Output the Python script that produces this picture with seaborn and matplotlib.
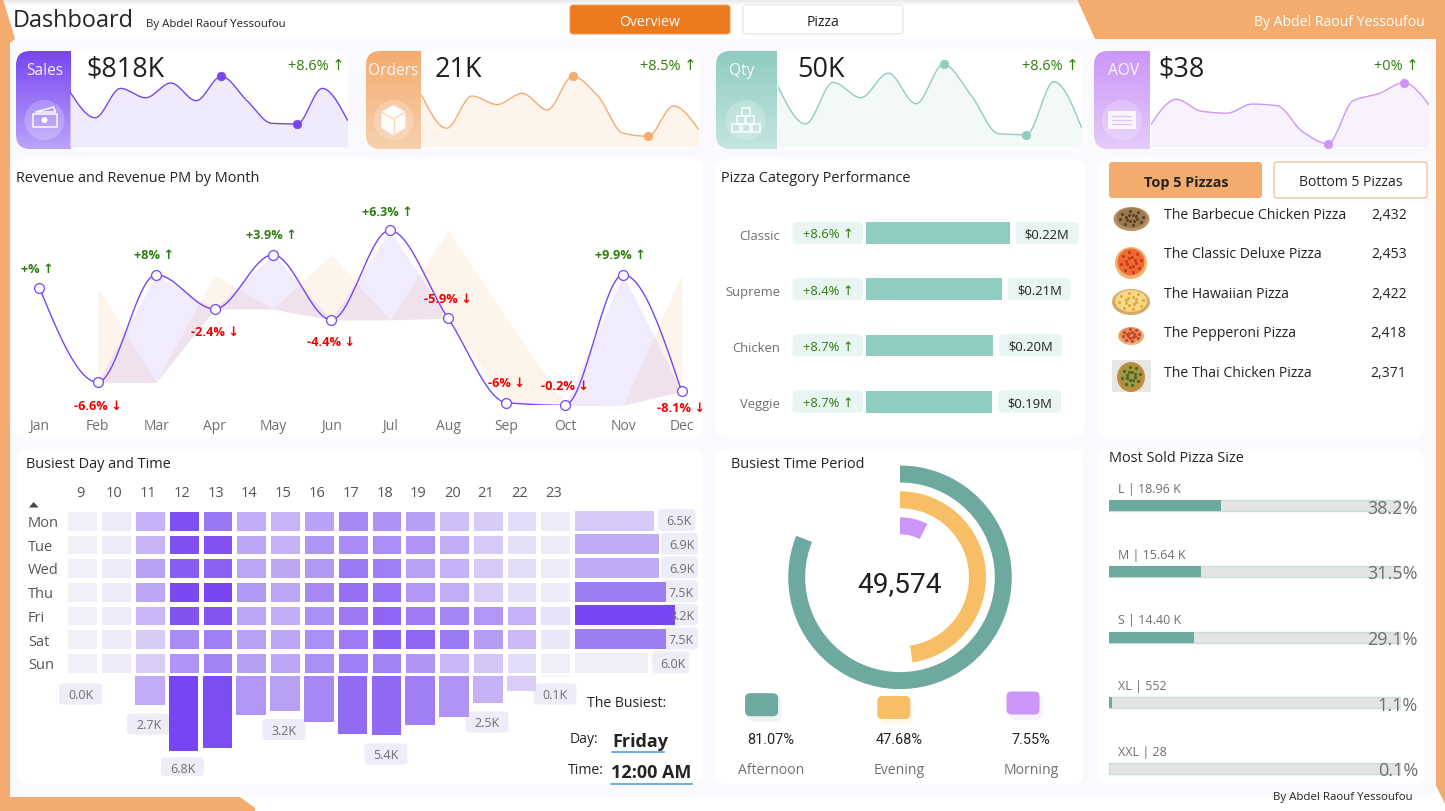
import numpy as np
import pandas as pd
import matplotlib
matplotlib.use('Agg')
import matplotlib.pyplot as plt
import seaborn as sns
from matplotlib.colors import LinearSegmentedColormap
from matplotlib.patches import FancyBboxPatch, Polygon, Ellipse, Circle, Rectangle

W, H = 1445, 812

months = ['Jan', 'Feb', 'Mar', 'Apr', 'May', 'Jun', 'Jul', 'Aug', 'Sep', 'Oct', 'Nov', 'Dec']
revenue = [69.78, 65.13, 70.42, 68.73, 71.40, 68.20, 72.60, 68.28, 64.13, 64.00, 70.42, 64.69]
orders = [1845, 1685, 1840, 1799, 1853, 1773, 1935, 1841, 1661, 1646, 1792, 1680]
quantity = [4232, 3961, 4261, 4151, 4328, 4107, 4392, 4168, 3890, 3883, 4266, 3935]
aov = [37.80, 38.70, 38.27, 38.20, 38.53, 38.47, 37.53, 37.10, 38.65, 38.90, 39.30, 38.50]
revenue_labels = ['+%', '-6.6%', '+8%', '-2.4%', '+3.9%', '-4.4%', '+6.3%', '-5.9%', '-6%', '-0.2%', '+9.9%', '-8.1%']

categories = ['Classic', 'Supreme', 'Chicken', 'Veggie']
category_sales = [220, 208, 195, 193]
category_sales_labels = ['$0.22M', '$0.21M', '$0.20M', '$0.19M']
category_growth = ['+8.6%', '+8.4%', '+8.7%', '+8.7%']

top_pizzas = ['The Barbecue Chicken Pizza', 'The Classic Deluxe Pizza', 'The Hawaiian Pizza',
              'The Pepperoni Pizza', 'The Thai Chicken Pizza']
top_pizza_qty = ['2,432', '2,453', '2,422', '2,418', '2,371']

days = ['Mon', 'Tue', 'Wed', 'Thu', 'Fri', 'Sat', 'Sun']
hours = [9, 10, 11, 12, 13, 14, 15, 16, 17, 18, 19, 20, 21, 22, 23]
hour_day_qty = [
    [10, 30, 400, 1020, 770, 420, 380, 500, 650, 600, 520, 320, 240, 120, 30],
    [10, 30, 380, 1010, 1000, 470, 400, 580, 640, 620, 590, 430, 250, 110, 30],
    [10, 30, 500, 940, 900, 480, 460, 560, 760, 720, 510, 400, 250, 120, 30],
    [10, 30, 470, 1060, 1070, 560, 480, 660, 820, 800, 570, 430, 220, 110, 30],
    [10, 30, 370, 990, 980, 470, 420, 620, 750, 890, 740, 680, 570, 400, 90],
    [10, 30, 230, 640, 720, 500, 470, 620, 740, 900, 880, 760, 540, 350, 60],
    [10, 30, 220, 590, 700, 520, 470, 620, 720, 690, 580, 370, 270, 120, 20],
]
day_totals = [6.5, 6.9, 6.9, 7.5, 8.2, 7.5, 6.0]
hour_totals = [0.02, 0.05, 2.7, 6.8, 6.5, 3.6, 3.2, 4.2, 5.3, 5.4, 4.5, 3.7, 2.5, 1.4, 0.1]

periods = ['Afternoon', 'Evening', 'Morning']
period_share = [81.07, 47.68, 7.55]

sizes = ['L | 18.96 K', 'M | 15.64 K', 'S | 14.40 K', 'XL | 552', 'XXL | 28']
size_share = [38.2, 31.5, 29.1, 1.1, 0.1]

PURPLE = '#7746F2'
ORANGE = '#F4AC6E'
TEAL = '#8FCCC1'
LILAC = '#CC96F8'
DARK_TEAL = '#6EA9A0'
GREEN = '#2F7D0E'
RED = '#F00000'
GREY = '#6F6F6F'
INK = '#252423'

sns.set_theme(style='white')
plt.rcParams['font.family'] = ['Open Sans', 'DejaVu Sans']

fig = plt.figure(figsize=(W / 100, H / 100), dpi=100, facecolor='white')


def add_axes(x0, y0, x1, y1, zorder=2):
    # axes placed with pixel coordinates of the picture
    ax = fig.add_axes([x0 / W, 1 - y1 / H, (x1 - x0) / W, (y1 - y0) / H], zorder=zorder)
    ax.patch.set_alpha(0)
    return ax


def clean(ax):
    ax.set_xlabel('')
    ax.set_ylabel('')
    ax.set_xticks([])
    ax.set_yticks([])
    sns.despine(ax=ax, left=True, bottom=True)


bg = add_axes(0, 0, W, H, zorder=0)
top = add_axes(0, 0, W, H, zorder=5)
for a in (bg, top):
    a.set_xlim(0, W)
    a.set_ylim(H, 0)
    a.axis('off')


def rrect(x0, y0, x1, y1, r=4, color='white', ec='none', lw=0.7, z=2, ax=bg, alpha=None):
    patch = FancyBboxPatch((x0 + r, y0 + r), x1 - x0 - 2 * r, y1 - y0 - 2 * r,
                           boxstyle=f'round,pad={r},rounding_size={r}', fc=color, ec=ec, lw=lw,
                           zorder=z, alpha=alpha)
    ax.add_patch(patch)
    return patch


def txt(x, y, s, px=14, color=INK, ha='left', weight='normal', family=None, alpha=None):
    # the font sits about 2px high when centred on the box
    kw = {'family': family} if family else {}
    top.text(x, y + 2, s, fontsize=px * 0.72, color=color, ha=ha, va='center', weight=weight, alpha=alpha, **kw)


def gradient_tab(x0, x1, c0, c1):
    # vertical gradient with only the left corners rounded
    cmap = LinearSegmentedColormap.from_list('tab', [c0, c1])
    clip = rrect(x0, 52, x1 + 20, 150, r=14, color='none', z=1)
    im = bg.imshow(np.linspace(0, 1, 100).reshape(-1, 1), extent=(x0, x1, 150, 52), cmap=cmap,
                   aspect='auto', zorder=3)
    im.set_clip_path(clip)
    bg.set_xlim(0, W)
    bg.set_ylim(H, 0)


def monotone_curve(values, steps=24):
    # smooth the line between the months, no overshoot
    y = np.asarray(values, dtype=float)
    d = np.diff(y)
    m = np.zeros(len(y))
    for i in range(1, len(y) - 1):
        if d[i - 1] * d[i] > 0:
            m[i] = 2 * d[i - 1] * d[i] / (d[i - 1] + d[i])
    m[0] = (3 * d[0] - m[1]) / 2
    m[-1] = (3 * d[-1] - m[-2]) / 2
    xs, ys = [], []
    for i in range(len(d)):
        t = np.linspace(0, 1, steps, endpoint=False)
        ys.append((2 * t**3 - 3 * t**2 + 1) * y[i] + (t**3 - 2 * t**2 + t) * m[i]
                  + (-2 * t**3 + 3 * t**2) * y[i + 1] + (t**3 - t**2) * m[i + 1])
        xs.append(i + t)
    xs.append(np.array([len(y) - 1.0]))
    ys.append(np.array([y[-1]]))
    return np.concatenate(xs), np.concatenate(ys)


def draw_background():
    # fade at the very top of the page
    fade = LinearSegmentedColormap.from_list('fade', ['#E6E6E6', '#FFFFFF'])
    bg.imshow(np.linspace(0, 1, 8).reshape(-1, 1), extent=(0, W, 7, 0), cmap=fade, aspect='auto', zorder=0.5)
    bg.set_xlim(0, W)
    bg.set_ylim(H, 0)
    shapes = [
        [(1077, 0), (W, 0), (W, 805), (1436, 787), (1436, 40), (1095, 40)],
        [(0, 0), (3, 0), (15, 40), (10, 44), (10, 798), (240, 798), (255, 809), (255, H), (0, H)],
    ]
    for pts in shapes:
        bg.add_patch(Polygon(pts, fc=ORANGE, ec='none', zorder=1))
    rrect(10, 40, 1436, 798, r=10, color='#FAF9FE', z=1.2)
    cards = [(15, 52, 348, 150), (366, 52, 700, 150), (716, 52, 1082, 150), (1094, 52, 1430, 150),
             (13, 160, 703, 438), (715, 160, 1085, 438), (1098, 160, 1424, 438),
             (18, 450, 703, 785), (715, 450, 1083, 785), (1098, 450, 1424, 785)]
    for c in cards:
        rrect(*c, r=10, color='white', z=1.5)


def draw_header():
    txt(13, 19, 'Dashboard', px=23.5)
    txt(146, 22, 'By Abdel Raouf Yessoufou', px=11.5)
    rrect(570, 6, 730, 35, r=3, color='#EC7A1E', ec='#F0A060')
    txt(650, 20.5, 'Overview', px=14, color='white', ha='center')
    rrect(743, 6, 903, 35, r=3, color='white', ec='#E2E2E2')
    txt(823, 20.5, 'Pizza', px=14, ha='center')
    txt(1425, 20, 'By Abdel Raouf Yessoufou', px=14, color='white', ha='right')
    txt(1413, 796, 'By Abdel Raouf Yessoufou', px=11.5, ha='right')


def draw_spark(x0, x1, top_px, bot_px, values, color, fill, low, high):
    base_px = 148
    ax = add_axes(x0, top_px, x1, base_px)
    vmin, vmax = min(values), max(values)
    floor = vmin - (vmax - vmin) * (base_px - bot_px) / (bot_px - top_px)
    xs, ys = monotone_curve(values)
    ax.fill_between(xs, ys, floor, color=fill, lw=0)
    sns.lineplot(x=xs, y=ys, ax=ax, color=color, linewidth=1.0, estimator=None, sort=False)
    sns.scatterplot(x=[low, high], y=[values[low], values[high]], ax=ax, color=color, s=38,
                    edgecolor=color, clip_on=False, zorder=4)
    ax.set_xlim(0, 11)
    ax.set_ylim(floor, vmax)
    clean(ax)


def draw_icon(kind, cx, cy):
    top.add_patch(Circle((cx, cy), 20, fc='white', ec='none', alpha=0.22))
    kw = dict(fc='none', ec='white', lw=1.1, alpha=0.95)
    if kind == 'sales':
        top.add_patch(Rectangle((cx - 12, cy - 6), 24, 13, **kw))
        top.add_patch(Circle((cx, cy), 3, fc='white', ec='none'))
        top.add_patch(Polygon([(cx - 9, cy - 8), (cx + 9, cy - 13), (cx + 11, cy - 8)], **kw))
    elif kind == 'orders':
        top.add_patch(Polygon([(cx - 12, cy - 8), (cx, cy - 15), (cx + 12, cy - 8), (cx + 12, cy + 8),
                               (cx, cy + 15), (cx - 12, cy + 8)], fc='white', ec='none', alpha=0.95))
        top.plot([cx - 12, cx, cx + 12], [cy - 8, cy - 1, cy - 8], color='#F9D9BC', lw=1)
        top.plot([cx, cx], [cy - 1, cy + 15], color='#F9D9BC', lw=1)
    elif kind == 'qty':
        for dx, dy in [(-4, -12), (-9, -4), (0, -4), (-14, 4), (-4, 4), (6, 4)]:
            top.add_patch(Rectangle((cx + dx, cy + dy), 8, 8, **kw))
    else:
        top.add_patch(Rectangle((cx - 14, cy - 9), 28, 18, fc='white', ec='none', alpha=0.85))
        for dy in (-4, 0, 4):
            top.plot([cx - 10, cx + 9], [cy + dy, cy + dy], color='#E2C6FA', lw=1)


def draw_kpis():
    cards = [
        ('Sales', '$818K', '+8.6%', 16, 71, '#7746F2', '#BBA3F9', 45, 86, 344, 'sales', 44.5),
        ('Orders', '21K', '+8.5%', 366, 421, '#F4AC6E', '#F7D0AE', 393, 435, 696, 'orders', 393.5),
        ('Qty', '50K', '+8.6%', 716, 777, '#8FCCC1', '#C3E5DF', 742, 797, 1079, 'qty', 745.5),
        ('AOV', '$38', '+0%', 1094, 1150, '#CC96F8', '#E4CBFB', 1124, 1158, 1419, 'aov', 1122),
    ]
    for name, value, delta, x0, x1, c0, c1, name_x, value_x, delta_x, icon, icon_x in cards:
        gradient_tab(x0, x1, c0, c1)
        txt(name_x, 69, name, px=15.5, color='white', ha='center', alpha=0.9)
        txt(value_x, 68, value, px=27, color='#1F1F1F')
        txt(delta_x, 64, f'{delta} ↑', px=14.5, color=GREEN, ha='right')
        draw_icon(icon, icon_x, 121)
    draw_spark(70, 347.5, 77.3, 125, revenue, PURPLE, '#EFEBFC', 9, 6)
    draw_spark(421.5, 698.5, 77.3, 137.3, orders, ORANGE, '#FDF4EC', 9, 6)
    draw_spark(778, 1081.5, 65.3, 135.7, quantity, TEAL, '#F2F9F7', 9, 6)
    draw_spark(1151, 1429, 83.7, 144.7, aov, LILAC, '#F8F2FE', 7, 10)


def draw_revenue():
    txt(16, 176, 'Revenue and Revenue PM by Month', px=14.5)
    ax = add_axes(39.4, 231.3, 681.6, 406.3)
    idx = np.arange(len(months))
    rev = np.array(revenue)
    prev = np.r_[np.nan, rev[:-1]]
    base = np.fmin(rev, prev)
    ax.fill_between(idx[1:], prev[1:], base[1:], color=ORANGE, alpha=0.13, lw=0)
    ax.fill_between(idx[1:], rev[1:], base[1:], color=PURPLE, alpha=0.10, lw=0)
    xs, ys = monotone_curve(revenue)
    sns.lineplot(x=xs, y=ys, ax=ax, color=PURPLE, linewidth=1.0, estimator=None, sort=False)
    sns.scatterplot(x=idx, y=rev, ax=ax, s=50, color='white', edgecolor=PURPLE, linewidth=0.9,
                    clip_on=False, zorder=4)
    ax.set_xlim(0, 11)
    ax.set_ylim(64.0, 72.6)
    sns.despine(ax=ax, left=True, bottom=True)
    ax.set_yticks([])
    ax.set_xticks(idx, months)
    ax.tick_params(axis='x', length=0, pad=9.5, labelsize=10, labelcolor=GREY)
    label_dx = [-2, 0, -2, 0, -2, 0, -2, 0, 0, 0, -3, -1]
    label_dy = [-19, 23, -20, 22, -20, 22, -19, -20, -20, -20, -20, 16]
    for i, s in enumerate(revenue_labels):
        up = s.startswith('+')
        ax.annotate(f'{s} ' + ('↑' if up else '↓'), (i, rev[i]),
                    xytext=(label_dx[i] * 0.72, -label_dy[i] * 0.72), textcoords='offset points',
                    ha='center', va='center', fontsize=9.2, weight='bold',
                    color=GREEN if up else RED, annotation_clip=False, zorder=6)


def draw_categories():
    txt(721, 176, 'Pizza Category Performance', px=14.5)
    ax = add_axes(865.6, 206, 1009.6, 430.8)
    df = pd.DataFrame({'category': categories, 'sales': category_sales})
    sns.barplot(data=df, x='sales', y='category', ax=ax, color=TEAL, width=0.39, saturation=1, linewidth=0)
    ax.set_xlim(0, max(category_sales))
    clean(ax)
    scale = 144 / max(category_sales)
    for i, name in enumerate(categories):
        y = 234 + i * 56.2
        rrect(792.5, y - 11, 863, y + 11, r=4, color='#E8F5F2')
        txt(828, y - 1, f'{category_growth[i]} ↑', px=13, color=GREEN, ha='center')
        txt(780, y, name, px=13, color=GREY, ha='right')
        end = 865.6 + category_sales[i] * scale
        rrect(end + 6, y - 11, end + 69, y + 11, r=4, color='#E8F5F2')
        txt(end + 37.5, y - 1, category_sales_labels[i], px=13, ha='center')


def draw_pizza(cx, cy, rx, ry, crust, sauce, dots):
    top.add_patch(Ellipse((cx, cy + 1), 2 * rx, 2 * ry, fc=crust, ec='none'))
    top.add_patch(Ellipse((cx, cy), 2 * rx * 0.84, 2 * ry * 0.84, fc=sauce, ec='none'))
    angles = np.linspace(0, 2 * np.pi, 9)[:-1]
    for r in (0.3, 0.62):
        top.scatter(cx + r * rx * np.cos(angles + r), cy + r * ry * np.sin(angles + r), s=5, color=dots,
                    linewidths=0, zorder=3)


def draw_top_pizzas():
    rrect(1109, 163, 1262, 199, r=3, color=ORANGE)
    txt(1186, 181, 'Top 5 Pizzas', px=14.5, weight='bold', ha='center')
    rrect(1274, 163, 1427, 199, r=3, color='white', ec=ORANGE)
    txt(1350.5, 181, 'Bottom 5 Pizzas', px=14, ha='center')
    bg.add_patch(Rectangle((1112, 361), 39, 32, fc='#E6E6E4', ec='none', zorder=2))
    draw_pizza(1131.5, 219, 18, 12, '#B8935F', '#9C7A50', '#5F3E2A')
    draw_pizza(1131, 263, 16, 16, '#F0B56A', '#EE6A34', '#C9371A')
    draw_pizza(1131, 302, 19, 13, '#D9A860', '#F3D98A', '#E2A83A')
    draw_pizza(1131, 336, 13, 9, '#E8B27A', '#E98B5A', '#C7452C')
    draw_pizza(1131, 377, 14, 15, '#C98B3E', '#A8933F', '#3F6A2E')
    for i, name in enumerate(top_pizzas):
        y = 213.5 + i * 39.5
        txt(1163.5, y, name, px=14)
        txt(1406.5, y, top_pizza_qty[i], px=14, ha='right')


def draw_heatmap():
    txt(26, 463, 'Busiest Day and Time', px=14.5)
    cmap = LinearSegmentedColormap.from_list('busy', ['#F2F0F8', PURPLE])
    ax = add_axes(65.3, 509.8, 572.3, 675.7)
    df = pd.DataFrame(hour_day_qty, index=days, columns=hours)
    sns.heatmap(df, ax=ax, cmap=cmap, vmin=0, vmax=1080, cbar=False, linewidths=2.2, linecolor='white')
    ax.xaxis.tick_top()
    ax.set_xticks(np.arange(len(hours)) + 0.45, hours)
    ax.set_yticks(np.arange(len(days)) + 0.58, days)
    ax.tick_params(axis='x', length=0, pad=6.5, labelsize=10.5, labelcolor='#555555', rotation=0)
    ax.tick_params(axis='y', length=0, pad=27, labelsize=10.5, labelcolor='#555555', rotation=0)
    for label in ax.get_yticklabels():
        label.set_ha('left')
    ax.set_xlabel('')
    ax.set_ylabel('')
    top.add_patch(Polygon([(29, 508.5), (38.5, 508.5), (33.7, 503)], fc='#444444', ec='none'))

    # hour totals hanging under the grid
    ax2 = add_axes(65.3, 676.5, 572.3, 752)
    peak = max(hour_totals)
    colors = [cmap(v / peak) for v in hour_totals]
    sns.barplot(x=[str(h) for h in hours], y=hour_totals, hue=[str(h) for h in hours], palette=colors,
                legend=False, ax=ax2, width=0.88, saturation=1, linewidth=0)
    ax2.set_ylim(peak, 0)
    clean(ax2)
    pills = {0: (80.6, 695, '0.0K'), 2: (148.6, 725, '2.7K'), 3: (182.5, 769, '6.8K'), 6: (284, 730.5, '3.2K'),
             9: (386, 755, '5.4K'), 12: (487, 723, '2.5K'), 14: (555, 695, '0.1K')}
    for x, y, s in pills.values():
        rrect(x - 21.5, y - 10.5, x + 21.5, min(y + 10.5, 777), r=4, color='#EFECF9')
        txt(x, y - 1, s, px=12.5, color=GREY, ha='center')

    # day totals to the right of the grid
    ax3 = add_axes(575, 509.8, 675, 675.7)
    day_colors = [cmap(max(0.02, (v - 6.0) / 2.2)) for v in day_totals]
    sns.barplot(x=day_totals, y=days, hue=days, palette=day_colors, legend=False, ax=ax3, width=0.84, saturation=1,
                linewidth=0)
    ax3.set_xlim(0, max(day_totals))
    clean(ax3)
    for i, v in enumerate(day_totals):
        y = 521 + i * 23.7
        end = 575 + v * 100 / max(day_totals)
        left = min(end + 4, 661)
        rrect(left, y - 11, left + 37, y + 11, r=4, color='#EFECF9', z=1.8)
        txt(left + 20.5, y - 1, f'{v:.1f}K', px=12.5, color=GREY, ha='center')

    txt(587, 702, 'The Busiest:', px=14)
    txt(570, 737.5, 'Day:', px=14)
    txt(612, 740, 'Friday', px=18, weight='bold')
    bg.plot([612, 664], [753, 753], color='#70B0EE', lw=1.5, zorder=3)
    txt(568, 769, 'Time:', px=14)
    txt(611, 771, '12:00 AM', px=18, weight='bold')
    bg.plot([611, 692], [785, 785], color='#70B0EE', lw=1.5, zorder=3)


def draw_period():
    txt(731, 463, 'Busiest Time Period', px=14.5)
    size = 112
    ax = add_axes(900 - size, 578.3 - size, 900 + size, 578.3 + size)
    radii = [111.8, 86, 60]
    colors = [DARK_TEAL, '#F8BE65', LILAC]
    for share, r, c in zip(period_share, radii, colors):
        ax.pie([share, 100 - share], radius=r / size, colors=[c, 'none'], startangle=90, counterclock=False,
               wedgeprops={'width': 17 / size, 'linewidth': 0})
    ax.set_xlim(-1, 1)
    ax.set_ylim(-1, 1)
    txt(900, 583, '49,574', px=28, color='#1F1F1F', ha='center', family=['Roboto', 'DejaVu Sans'])
    swatches = [(761.6, 705.7), (893.8, 708.5), (1023, 704)]
    text_x = [771, 899, 1031]
    for i, name in enumerate(periods):
        cx, cy = swatches[i]
        rrect(cx - 14, cy - 9, cx + 20, cy + 17, r=7, color=colors[i], alpha=0.12, z=1.7)
        rrect(cx - 16.5, cy - 11.5, cx + 16.5, cy + 11.5, r=5, color=colors[i], z=2)
        txt(text_x[i], 738, f'{period_share[i]:.2f}%', px=14.5, ha='center', family=['Roboto', 'DejaVu Sans'])
        txt(text_x[i], 768.5, name, px=14, color=GREY, ha='center')


def draw_sizes():
    txt(1109, 457, 'Most Sold Pizza Size', px=14.5)
    ax = add_axes(1109, 473.9, 1401, 802.2)
    df = pd.DataFrame({'size': sizes, 'share': size_share, 'full': [100] * len(sizes)})
    sns.barplot(data=df, x='full', y='size', ax=ax, color='#E4E4E4', width=0.167, saturation=1,
                edgecolor='#C9DDD9', linewidth=1)
    sns.barplot(data=df, x='share', y='size', ax=ax, color=DARK_TEAL, width=0.167, saturation=1, linewidth=0)
    ax.set_xlim(0, 100)
    clean(ax)
    for i, name in enumerate(sizes):
        y = 506.7 + i * 65.65
        txt(1118, y - 19, name, px=12.5, color=GREY)
        txt(1418, y, f'{size_share[i]}%', px=18, color=GREY, ha='right')


def main():
    draw_background()
    draw_header()
    draw_kpis()
    draw_revenue()
    draw_categories()
    draw_top_pizzas()
    draw_heatmap()
    draw_period()
    draw_sizes()
    fig.savefig('out.png', dpi=100, facecolor='white')


if __name__ == "__main__":
    main()
